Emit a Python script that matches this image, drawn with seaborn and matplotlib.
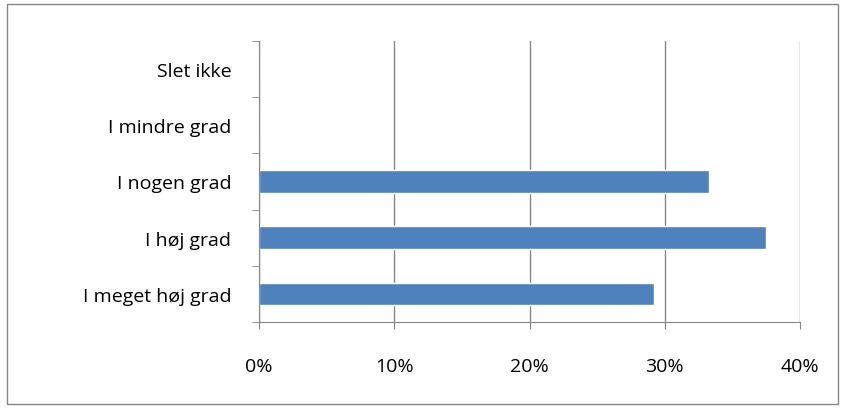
import matplotlib
matplotlib.use("Agg")
import matplotlib.pyplot as plt
import seaborn as sns
import pandas as pd
from matplotlib.patches import Rectangle

categories = ["Slet ikke", "I mindre grad", "I nogen grad", "I høj grad", "I meget høj grad"]
values = [0.0, 0.0, 33.3, 37.5, 29.2]
xticks = [0, 10, 20, 30, 40]
xticklabels = ["0%", "10%", "20%", "30%", "40%"]

sns.set_style("white")
plt.rcParams['font.family'] = ['Open Sans', 'DejaVu Sans']

fig = plt.figure(figsize=(8.46, 4.10), dpi=100)
ax = fig.add_axes([259/846, 1-323/410, (800-259)/846, (323-42)/410])
df = pd.DataFrame({"cat": categories, "val": values})
sns.barplot(data=df, x="val", y="cat", order=categories, color="#4F81BD",
            width=0.4, ax=ax, saturation=1)
ax.set_xlim(0, 40)
ax.set_ylim(4.5, -0.5)
ax.set_xticks(xticks)
ax.set_xticklabels(xticklabels, fontsize=14, color="black")
ax.set_xlabel(""); ax.set_ylabel("")
ax.xaxis.grid(True, color="#868686", linewidth=1)
ax.set_axisbelow(True)
ax.set_yticks([i for i in range(5)])
ax.set_yticklabels(categories, fontsize=14, color="black")
ax.tick_params(axis='y', which='major', length=0, pad=20)
ax.tick_params(axis='x', length=5, color="#868686", pad=20, direction='out', bottom=True)
ax.set_yticks([i - 0.5 for i in range(6)], minor=True)
ax.tick_params(axis='y', which='minor', length=5, color="#868686", left=True, direction='out')
for s in ["top", "right"]:
    ax.spines[s].set_visible(False)
for s in ["left", "bottom"]:
    ax.spines[s].set_color("#868686")
fig.patches.append(Rectangle((7/846, 5/410), 831/846, 400/410, transform=fig.transFigure,
                             fill=False, edgecolor="#868686", linewidth=1))
fig.savefig("out.png", dpi=100)
